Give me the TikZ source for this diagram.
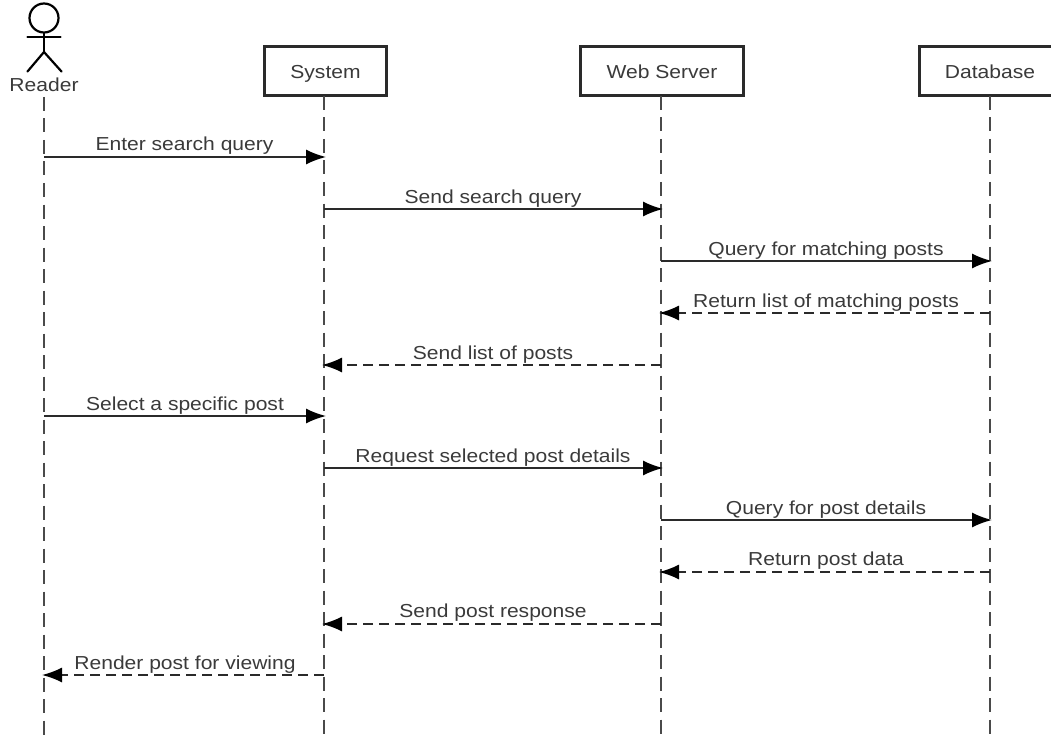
\documentclass[tikz,border=0pt]{standalone}
\usepackage{fontspec}
\setmainfont[FakeStretch=1.12]{Liberation Sans}
\usetikzlibrary{arrows.meta}
\definecolor{ink}{HTML}{2A2A2A}
\definecolor{txt}{HTML}{3A3A3A}
\tikzset{
  x=1pt,y=-1pt,
  lbl/.style={font=\fontsize{18.8}{22}\selectfont,text=txt,inner sep=0pt,anchor=base},
  boxnode/.style={draw=ink,line width=3pt,fill=white,minimum height=49pt,inner sep=0pt,lbl,anchor=center,text height=14.5pt,text depth=0.5pt},
  life/.style={draw=ink!85!white,line width=1.9pt,dash pattern=on 14pt off 7.5pt},
  msg/.style={draw=ink,line width=1.6pt,shorten >=-2pt,-{Latex[length=20pt,width=15pt,color=black]}},
  ret/.style={msg,dash pattern=on 10pt off 6pt},
  stick/.style={draw=black,line width=2.2pt,line cap=round}
}
\begin{document}
\begin{tikzpicture}
\useasboundingbox (0,0) rectangle (1051,738);
% participants
\node[boxnode,minimum width=122pt] (system) at (325.5,71.5) {System};
\node[boxnode,minimum width=163pt] (web) at (662,71.5) {Web Server};
\node[boxnode,minimum width=142pt] (db) at (990,71.5) {Database};
\node[lbl,anchor=center] (reader) at (44,85) {Reader};
% actor figure
\node[draw=black,line width=2.2pt,circle,minimum size=29pt,inner sep=0pt] (head) at (44,18) {};
\coordinate (hip) at (44,52);
\coordinate (armL) at (27.5,37);
\coordinate (armR) at (60.5,37);
\coordinate (legL) at (27.5,71.5);
\coordinate (legR) at (61.5,71.5);
\draw[stick] (head.south) -- (hip);
\draw[stick] (armL) -- (armR);
\draw[stick] (legL) -- (hip) -- (legR);
% lifelines
\coordinate (rtop) at (44,97);
\coordinate (rend) at (44,738);
\coordinate (send) at (324,738);
\coordinate (wend) at (661,738);
\coordinate (dend) at (990,738);
\coordinate (stop) at (324,96);
\coordinate (wtop) at (661,96);
\coordinate (dtop) at (990,96);
\draw[life] (rtop) -- (rend);
\draw[life] (stop) -- (send);
\draw[life] (wtop) -- (wend);
\draw[life] (dtop) -- (dend);
% anchor points for messages
\foreach \n/\y in {1/157,2/209,3/261,4/313,5/365,6/416,7/468,8/520,9/572,10/624,11/675}{
  \coordinate (R\n) at (44,\y);
  \coordinate (S\n) at (324,\y);
  \coordinate (W\n) at (661,\y);
  \coordinate (D\n) at (990,\y);
}
% messages
\draw[msg] (R1) -- (S1);
\draw[msg] (S2) -- (W2);
\draw[msg] (W3) -- (D3);
\draw[ret] (D4) -- (W4);
\draw[ret] (W5) -- (S5);
\draw[msg] (R6) -- (S6);
\draw[msg] (S7) -- (W7);
\draw[msg] (W8) -- (D8);
\draw[ret] (D9) -- (W9);
\draw[ret] (W10) -- (S10);
\draw[ret] (S11) -- (R11);
% labels
\node[lbl] (t1) at (184.5,151) {Enter search query};
\node[lbl] (t2) at (493,203) {Send search query};
\node[lbl] (t3) at (826,255) {Query for matching posts};
\node[lbl] (t4) at (826,307) {Return list of matching posts};
\node[lbl] (t5) at (493,359) {Send list of posts};
\node[lbl] (t6) at (185,410) {Select a specific post};
\node[lbl] (t7) at (493,462) {Request selected post details};
\node[lbl] (t8) at (826,514) {Query for post details};
\node[lbl] (t9) at (826,565) {Return post data};
\node[lbl] (t10) at (493,617) {Send post response};
\node[lbl] (t11) at (185,669) {Render post for viewing};
\end{tikzpicture}
\end{document}
